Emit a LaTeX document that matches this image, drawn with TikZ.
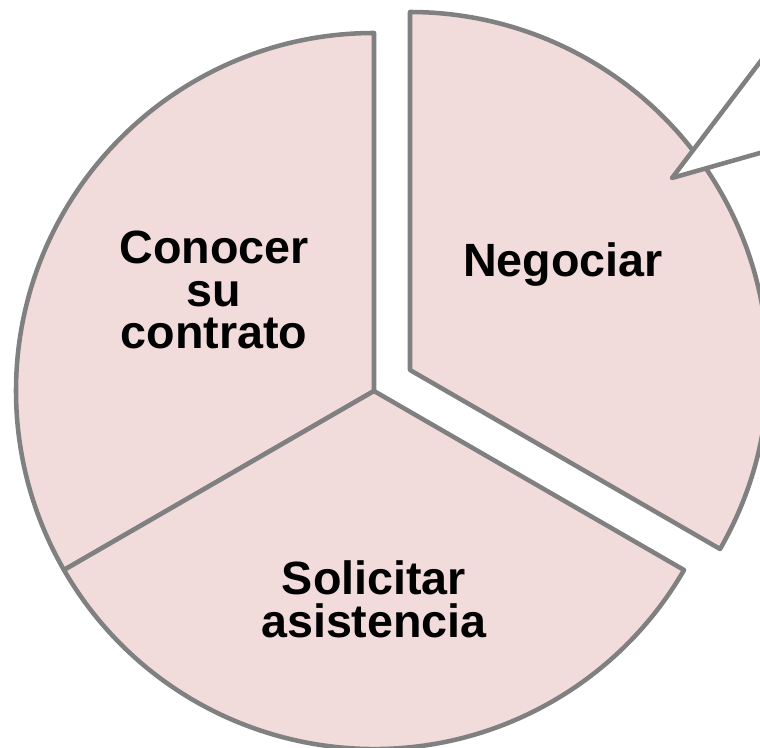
\documentclass[tikz,border=0pt]{standalone}
\usepackage{fontspec}
\setmainfont{Liberation Sans}
\definecolor{piefill}{HTML}{F2DCDB}
\definecolor{pieline}{HTML}{808080}
\begin{document}
\begin{tikzpicture}[x=0.75pt,y=0.75pt,
  sector/.style={fill=piefill,draw=pieline,line width=3.4pt,line join=round},
  lbl/.style={font=\fontsize{35}{32}\selectfont\bfseries,align=center,text=black,inner sep=0pt},
  callout/.style={fill=white,draw=pieline,line width=3.4pt,line join=round}]
\useasboundingbox (0,0) rectangle (760,747);
\clip (0,0) rectangle (760,747);
\coordinate (c1) at (374,356);
\coordinate (c2) at (410,377);
\draw[sector] (c1) -- ++(90:268.5pt) arc[start angle=90,end angle=210,radius=268.5pt] -- cycle;
\draw[sector] (c1) -- ++(210:268.5pt) arc[start angle=210,end angle=330,radius=268.5pt] -- cycle;
\draw[sector] (c2) -- ++(-30:268.5pt) arc[start angle=-30,end angle=90,radius=268.5pt] -- cycle;
\coordinate (tip) at (672,569);
\draw[callout] (800,737.7) -- (tip) -- (800,605.4);
\node[lbl] (conocer) at (214,457) {Conocer\\su\\contrato};
\node[lbl] (negociar) at (563,482) {Negociar};
\node[lbl] (solicitar) at (374,148) {Solicitar\\asistencia};
\end{tikzpicture}
\end{document}
